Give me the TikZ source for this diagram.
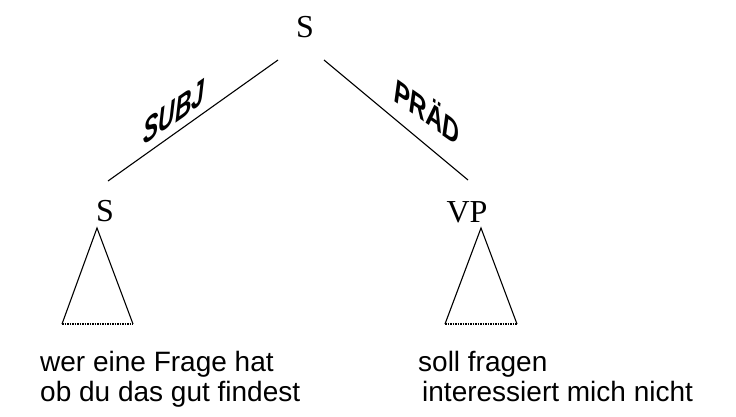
\documentclass[tikz,border=0pt]{standalone}
\usepackage{fontspec}
\setmainfont{Liberation Sans}
\newfontfamily\seriffam{Liberation Serif}
\begin{document}
\begin{tikzpicture}[x=1pt,y=1pt,
  cat/.style={font=\seriffam\fontsize{32}{34}\selectfont, inner sep=0, anchor=base},
  phrase/.style={font=\fontsize{28}{30}\selectfont, inner sep=0, anchor=base west},
  rel/.style={font=\bfseries\itshape\fontsize{27}{28}\selectfont, inner sep=0, anchor=base, transform shape},
  branch/.style={line width=1.1pt},
  tri/.style={line width=1.1pt},
  triBase/.style={line width=1.1pt, dash pattern=on 1.5pt off 1pt}]
\useasboundingbox (0,0) rectangle (736,-416);
% category nodes
\node[cat] (top) at (305,-37) {S};
\node[cat] (sl) at (105,-221) {S};
\node[cat] (vp) at (467,-222) {VP};
% branch end points
\coordinate (tl) at (278,-60);
\coordinate (bl) at (108,-181);
\coordinate (tr) at (324,-60);
\coordinate (br) at (468,-180);
\draw[branch] (tl) -- (bl);
\draw[branch] (tr) -- (br);
% relation labels
\begin{scope}[shift={(174,-124)}, yslant=0.7, xscale=0.85, yscale=1.3]
  \node[rel] (subj) at (0,0) {SUBJ};
\end{scope}
\begin{scope}[shift={(427,-124)}, yslant=-0.7, xscale=0.85, yscale=1.3]
  \node[rel] (praed) at (0,0) {PRÄD};
\end{scope}
% triangles
\coordinate (la) at (97,-228);
\coordinate (lb1) at (62,-324);
\coordinate (lb2) at (133,-324);
\coordinate (ra) at (481,-228);
\coordinate (rb1) at (445,-324);
\coordinate (rb2) at (517,-324);
\draw[tri] (lb1) -- (la) -- (lb2);
\draw[triBase] (lb1) -- (lb2);
\draw[tri] (rb1) -- (ra) -- (rb2);
\draw[triBase] (rb1) -- (rb2);
% phrases
\node[phrase] (l1) at (40,-371) {wer eine Frage hat};
\node[phrase] (l2) at (40,-401) {ob du das gut findest};
\node[phrase] (r1) at (418,-371) {soll fragen};
\node[phrase] (r2) at (422,-401) {interessiert mich nicht};
\end{tikzpicture}
\end{document}
